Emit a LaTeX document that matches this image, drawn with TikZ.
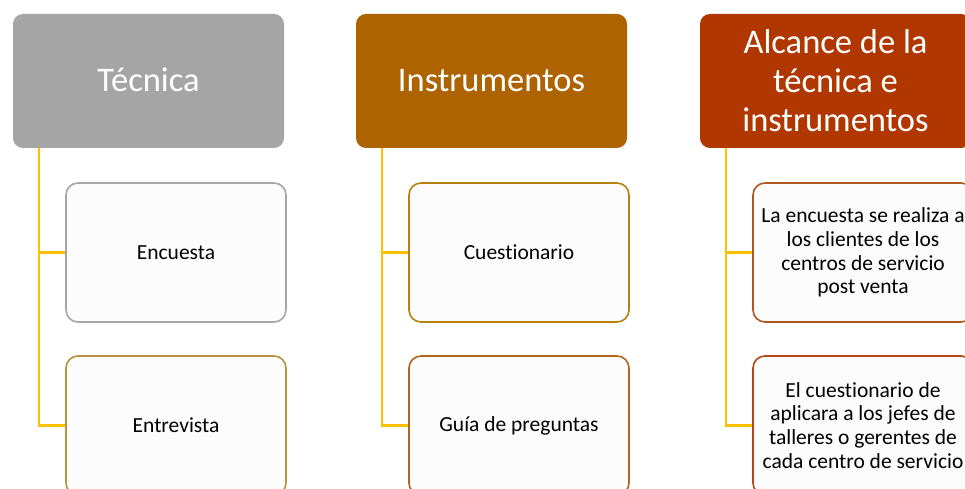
\documentclass[tikz,border=0pt]{standalone}
\usepackage{fontspec}
\setmainfont{Carlito}[RawFeature={-liga,-clig}]
\usepackage{tikz}
\usetikzlibrary{positioning}

\definecolor{hdgray}{HTML}{A5A5A5}
\definecolor{hdbrown}{HTML}{AD6400}
\definecolor{hdrust}{HTML}{B03800}
\definecolor{lnyellow}{HTML}{FFC000}
\definecolor{bdgray}{HTML}{A6A6A6}
\definecolor{bdgold}{HTML}{B8923F}
\definecolor{bdamber}{HTML}{B5820F}
\definecolor{bdbrown}{HTML}{B5641D}
\definecolor{bdrust}{HTML}{B0561F}
\definecolor{bdred}{HTML}{B2461A}

\tikzset{
  header/.style={rounded corners=10pt, minimum width=271pt, minimum height=134pt,
    inner sep=0pt, text=white, font=\fontsize{34.5}{39}\selectfont, align=center},
  item/.style={rounded corners=12pt, minimum width=220pt, minimum height=139pt,
    inner sep=0pt, fill=black!1, line width=1.6pt, font=\fontsize{21.5}{23.8}\selectfont,
    align=center},
  conn/.style={lnyellow, line width=2.2pt}
}

\begin{document}
\begin{tikzpicture}[x=1pt, y=-1pt]
  \useasboundingbox (0,0) rectangle (965,489);
  \clip (0,0) rectangle (965,489);

  % Column headers
  \node[header, fill=hdgray]  (tec) at (148.5,81) {\raisebox{2pt}{Técnica}};
  \node[header, fill=hdbrown] (ins) at (491.5,81) {\raisebox{2pt}{Instrumentos}};
  \node[header, fill=hdrust]  (alc) at (835.5,81) {Alcance de la\\técnica e\\instrumentos};

  % Items below each header
  \node[item, draw=bdgray]  (enc) at (176,252.5) {Encuesta};
  \node[item, draw=bdgold]  (ent) at (176,425.5) {Entrevista};
  \node[item, draw=bdamber] (cue) at (519,252.5) {Cuestionario};
  \node[item, draw=bdbrown] (gui) at (519,425.5) {Guía de preguntas};
  \node[item, draw=bdrust]  (enr) at (863,252.5) {La encuesta se realiza a\\los clientes de los\\centros de servicio\\post venta};
  \node[item, draw=bdred]   (cur) at (863,425.5) {El cuestionario de\\aplicara a los jefes de\\talleres o gerentes de\\cada centro de servicio};

  % Yellow connectors
  \foreach \h/\a/\b in {tec/enc/ent, ins/cue/gui, alc/enr/cur} {
    \coordinate (\h-c) at ([xshift=26pt]\h.south west);
    \draw[conn] (\h-c) |- (\a.west);
    \draw[conn] (\h-c) |- (\b.west);
  }

\end{tikzpicture}
\end{document}
